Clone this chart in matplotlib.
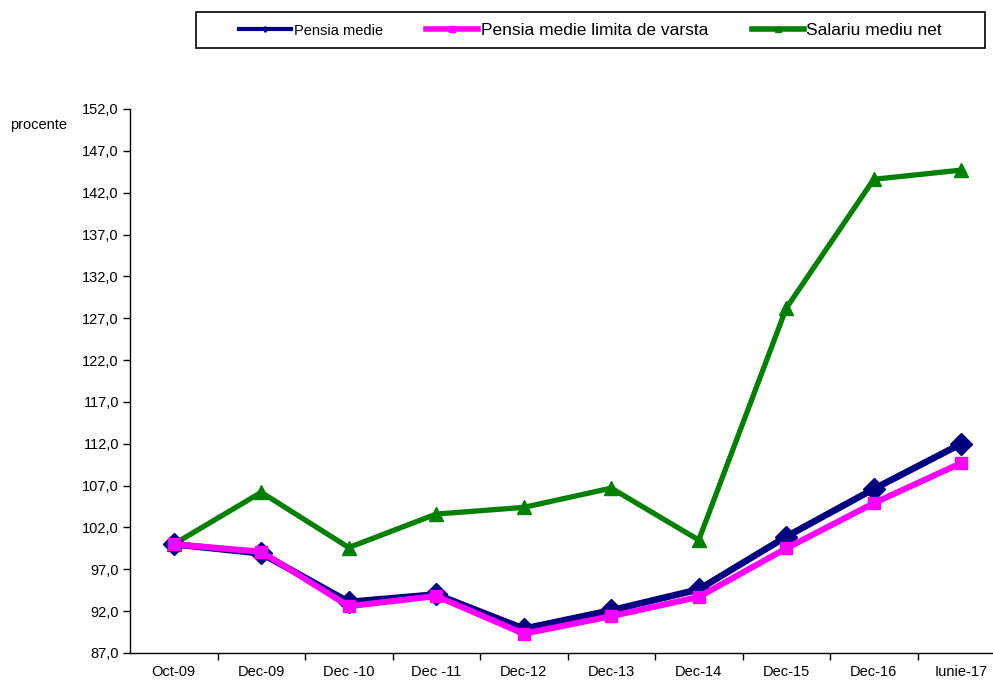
import matplotlib
matplotlib.use("Agg")
import matplotlib.pyplot as plt
from matplotlib.patches import Rectangle
from matplotlib.ticker import FixedLocator, FuncFormatter
import numpy as np

plt.rcParams['font.family'] = ['Liberation Sans', 'DejaVu Sans']

categories = ['Oct-09', 'Dec-09', 'Dec -10', 'Dec -11', 'Dec-12',
              'Dec-13', 'Dec-14', 'Dec-15', 'Dec-16', 'Iunie-17']
pensia_medie = [100.0, 98.9, 93.1, 94.0, 89.9, 92.1, 94.6, 100.9, 106.6, 112.0]
pensia_limita = [100.0, 99.1, 92.6, 93.8, 89.3, 91.4, 93.7, 99.5, 104.9, 109.7]
salariu = [100.0, 106.2, 99.6, 103.6, 104.4, 106.7, 100.5, 128.2, 143.6, 144.7]

x = np.arange(len(categories))

fig = plt.figure(figsize=(9.93, 6.8), dpi=100)
ax = fig.add_axes([130 / 993, 1 - 653 / 680, 875 / 993, 544 / 680])

l1, = ax.plot(x, pensia_medie, color='#000080', lw=4.8, marker='D', ms=11,
              label='Pensia medie', zorder=3)
l2, = ax.plot(x, pensia_limita, color='#ff00ff', lw=4.4, marker='s', ms=8,
              label='Pensia medie limita de varsta', zorder=4)
l3, = ax.plot(x, salariu, color='#008000', lw=3.8, marker='^', ms=10,
              label='Salariu mediu net', zorder=2)

ax.set_xlim(-0.5, 9.5)
ax.set_ylim(87, 152)
ax.set_yticks(np.arange(87, 153, 5))
ax.yaxis.set_major_formatter(FuncFormatter(lambda v, p: f'{v:.1f}'.replace('.', ',')))
ax.set_xticks(x)
ax.set_xticklabels(categories)
ax.xaxis.set_minor_locator(FixedLocator(np.arange(0.5, 9.5, 1)))
ax.tick_params(axis='x', which='major', length=0, pad=9, labelsize=10.5)
ax.tick_params(axis='x', which='minor', length=5, width=1, direction='out')
ax.tick_params(axis='y', length=5, width=1, direction='out', labelsize=10.5, pad=3)

for s in ['top', 'right']:
    ax.spines[s].set_visible(False)
for s in ['left', 'bottom']:
    ax.spines[s].set_linewidth(1)
    ax.spines[s].set_color('black')

fig.text(10 / 993, 1 - 125 / 680, 'procente', fontsize=10.5, va='center', ha='left')

# legend box drawn separately, entries centered inside it
box = (196 / 993, 1 - 48 / 680, 789 / 993, 36 / 680)
fig.patches.append(Rectangle(box[:2], box[2], box[3], transform=fig.transFigure,
                             fill=False, edgecolor='black', lw=1.2))
h1 = plt.Line2D([], [], color='#000080', lw=3, marker='+', ms=5, mew=2)
h2 = plt.Line2D([], [], color='#ff00ff', lw=4, marker='s', ms=5)
h3 = plt.Line2D([], [], color='#008000', lw=4, marker='^', ms=5)
leg = fig.legend([h1, h2, h3], [l1.get_label(), l2.get_label(), l3.get_label()],
                 loc='center', bbox_to_anchor=(box[0] + box[2] / 2, box[1] + box[3] / 2),
                 ncol=3, frameon=False, fontsize=12.5, handlelength=3.0,
                 handletextpad=0.15, columnspacing=2.5, borderpad=0)
leg.get_texts()[0].set_fontsize(10.5)

fig.savefig('out.png', dpi=100)
